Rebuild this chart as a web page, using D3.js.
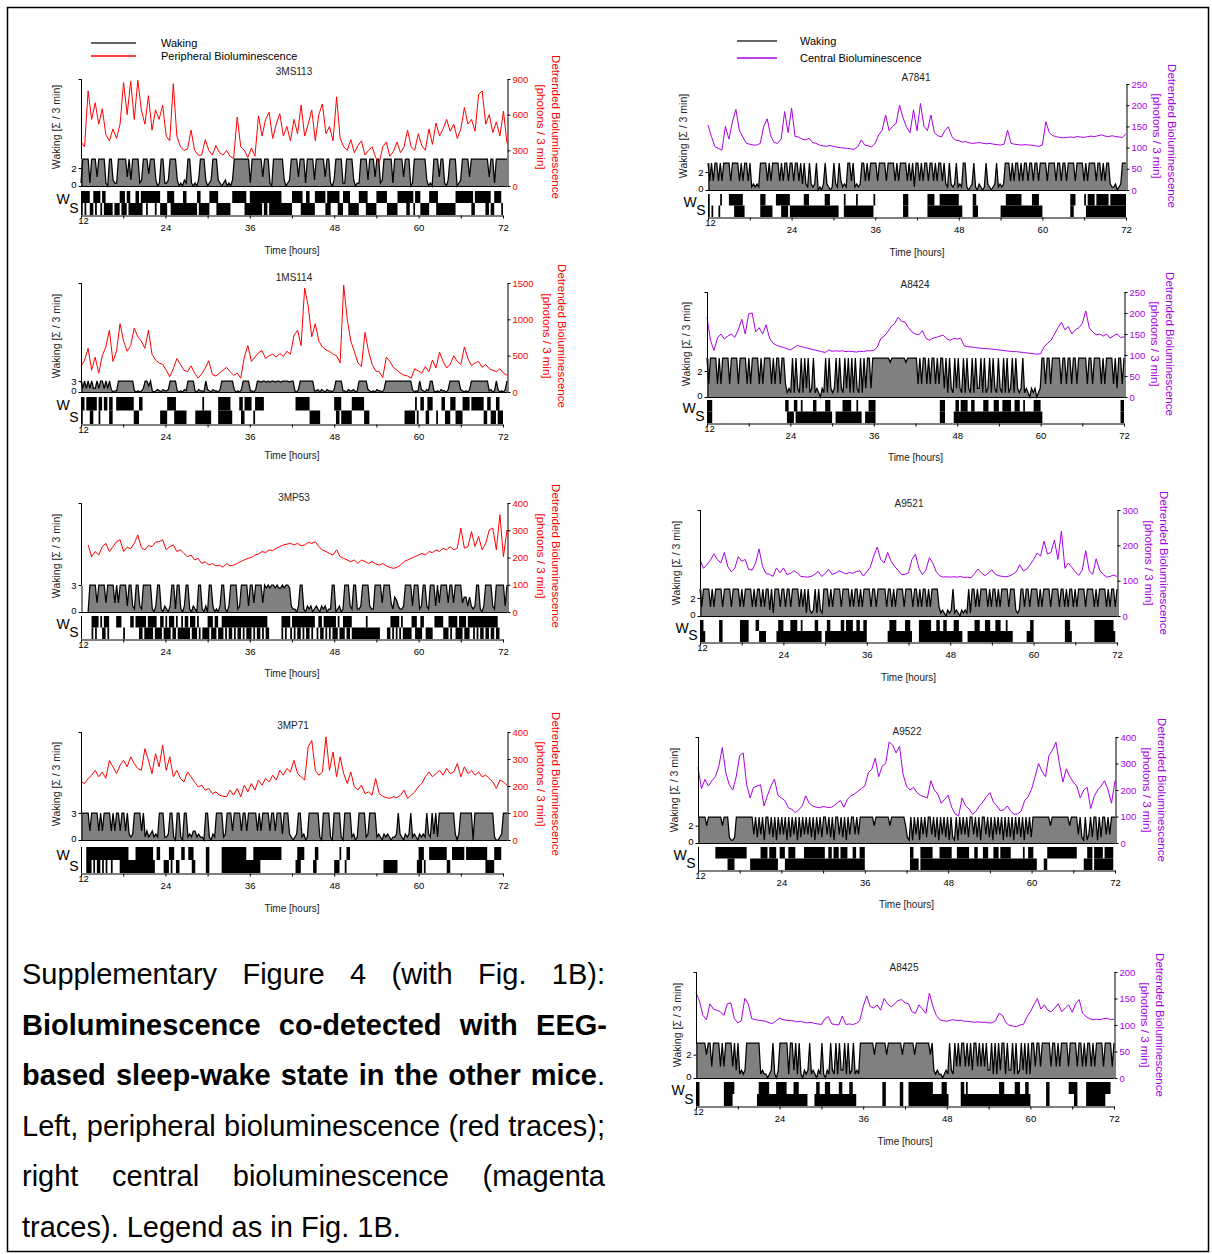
<!DOCTYPE html>
<html>
<head>
<meta charset="utf-8">
<script src="https://cdn.jsdelivr.net/npm/d3@7"></script>
<style>body{margin:0;background:#fff}</style>
</head>
<body>
<svg id="fig" width="1212" height="1254"></svg>
<script>
// time base: bioluminescence every 30 min, waking / hypnogram every 15 min, 12 h -> 72 h
var hourTicks = [12, 18, 24, 30, 36, 42, 48, 54, 60, 66, 72];
var bioStep = 0.5;

// ---- left column, peripheral bioluminescence ----
var bio3MS113 = [
 370,330,800,560,700,520,650,430,380,480,
 400,520,870,600,880,560,890,640,520,760,
 470,640,560,680,420,380,860,420,330,300,
 310,470,300,260,260,390,300,260,340,280,
 260,300,250,230,580,330,300,240,320,250,
 590,420,560,620,400,520,610,420,500,380,
 560,440,680,420,520,640,380,600,690,440,
 500,380,750,400,330,300,390,280,340,380,
 260,300,330,240,190,330,370,250,290,370,
 280,330,470,330,300,440,340,300,480,350,
 530,420,480,560,460,520,400,480,660,520,
 560,460,770,800,520,600,450,540,420,630,
 360];
var wake3MS113 = "1999 9199 9399 9910 9921 1999 9939 2999 9129 9949 " +
 "9920 1991 1299 9920 1021 9910 1029 9920 1299 9210 " +
 "1201 0299 9999 9991 9999 9939 9910 9999 9920 1299 " +
 "9939 9919 9992 9999 9399 1029 9991 1999 9201 1999 " +
 "9299 9399 1299 9991 9999 9399 9019 9999 9920 1099 " +
 "9399 1029 9990 1299 9939 9999 9999 9399 1999 9999";
var hyp3MS113 = "BWBW WSSW BWWS WBSS SS.S SSWB BSWB SSSB BSBW WBWW " +
 "WWBW WSSS SWWB BSSS SSBB SSSS SSWB SSSS SWWW WBSS " +
 "SSSS S.WW WWWW WBSS BBBB BBBW BBWB BBBB BBSS SSSS " +
 "WWWW WBSS BBSS SWWW WWWS BBWW WWBS SWWW BSSS SSWW " +
 "WWBS SSSS WWWW WWSS SSSS WWWW WBBW WSWW WSSS SSWW " +
 "WWBS SSSS SSSS SWWW WWWW WWBS WWWW WWBB WSSW WWWS";

var bio1MS114 = [
 350,440,600,300,480,260,500,620,850,420,
 560,940,700,560,640,880,760,700,600,850,
 520,440,400,380,300,210,320,460,380,300,
 280,360,260,190,250,330,430,240,220,260,
 300,340,280,230,260,190,480,640,420,480,
 540,570,460,500,520,480,530,490,560,520,
 780,850,640,1430,1180,760,940,700,620,580,
 560,520,500,400,1470,1000,700,560,400,350,
 820,560,380,290,280,200,480,420,340,300,
 260,230,220,190,320,290,260,350,280,440,
 330,550,420,330,380,500,420,380,620,460,
 360,400,420,340,380,320,300,280,320,260,
 230];
var wake1MS114 = "9393 9393 3939 9393 9201 1999 9999 9910 1013 9959 " +
 "1012 1021 1299 9910 1021 9999 1021 1092 1021 1029 " +
 "9999 9920 1029 9991 1029 9899 8989 9899 8999 9899 " +
 "1029 9999 9991 1202 1021 1029 9991 1021 1201 9999 " +
 "9210 1021 1029 9999 9999 9999 9920 1092 1021 9910 " +
 "1021 1029 9999 9210 1029 9999 9999 9120 1920 1029";
var hyp1MS114 = "BW.W WBBW W.BW .WW. BB.. WWWW WWWW WWSS SWW. .... " +
 ".... .SSS SWWW WBSS SSSS .... .SSS SBSS SS.. ..BB " +
 "BBBB BS.. ..WB SWWW W.SW WWWW .... .... .... .... " +
 "..WW WWWW WWSS SSSS .... .... WBBW SSSS SSWW WWWW " +
 "WSSS .... .... .... .... .... SSSS SSWS .WW. SBWW " +
 "..S. .WWS SSWW WSSS SWWW W.WW WWWW WSSW WSSS WBSS";

// 3MP53 bioluminescence starts at 13 h
var bio3MP53 = [
 246,203,222,209,240,252,222,240,258,265,
 222,238,232,252,283,236,228,244,240,256,
 258,265,228,240,246,222,228,215,203,209,
 191,197,178,185,172,178,169,172,164,178,
 169,172,178,185,191,197,200,209,213,222,
 218,228,225,234,240,246,249,252,246,252,
 243,246,255,252,258,240,228,222,215,209,
 228,203,197,191,185,191,178,191,185,178,
 185,176,172,178,169,164,160,164,172,185,
 191,197,203,209,215,209,222,218,228,222,
 234,228,240,228,234,308,234,240,295,240,
 277,228,252,301,308,228,357,203,301];
var wake3MP53 = "---- 0999 9399 9939 9993 9399 9929 9219 9219 9999 " +
 "1029 9102 1029 9199 1029 9102 1099 1020 9920 1029 " +
 "9102 9999 1299 9929 9399 9939 8989 9898 8989 9821 " +
 "1029 9102 1201 2102 1201 1990 1201 9992 1991 1299 " +
 "9921 1999 9399 9931 5421 1299 9929 9912 9921 9992 " +
 "9399 9939 9399 9935 5252 1299 1029 9992 1999 9929";
var hyp3MP53 = ".... ..BW BW.W SBWB .... WWW. S... WW.W WBBW BSBB " +
 "BWBS SBWS BSBW BSWS SBSB BSWB BSWS .SSS BWBS BWSS " +
 "BWBW BBWB WBBW BWBB BWBW BBWB WBS. .... ..BW BWWS " +
 "WBWB BWBW BBWB W.SW BSWB WBWB BSWS SBWB BWSS SSSS " +
 "SSBS SSSS SS.. ..SS WBWB WSWS SSSS WWBS SBW. SSSS " +
 ".WWW WWSS SWBW WBSB BWBS BWWB WBWB BWBB WBBW BS..";

var bio3MP71 = [
 215,209,228,240,258,234,252,228,295,271,
 246,277,295,271,308,283,265,258,338,295,
 246,320,271,351,258,308,234,258,228,215,
 252,234,215,197,203,185,191,172,178,166,
 162,160,185,166,191,160,203,178,209,185,
 222,203,228,215,240,222,258,240,265,252,
 295,246,234,222,345,369,258,240,252,382,
 258,326,234,308,246,209,252,197,185,203,
 172,178,166,228,172,162,157,154,160,157,
 166,185,154,166,178,197,209,234,252,234,
 246,258,240,265,246,252,283,234,271,246,
 258,240,252,234,240,228,215,191,222,215,
 203];
var wake3MP71 = "9999 9399 9939 3999 9393 9939 9392 1299 9939 1312 " +
 "3121 9991 1299 1099 1099 1213 3121 1099 1021 9999 " +
 "1299 9399 9939 9399 9993 9399 9939 9399 9299 9210 " +
 "1299 1201 9999 9910 9999 1099 9910 9999 1201 9999 " +
 "1299 9912 1021 2101 1292 1021 2912 1021 2192 1929 " +
 "1999 9999 9920 2999 9999 0999 9999 9999 1001 2999";
var hyp3MP71 = "...B BBWB WBBW BWBW WBWW WWBB BBBS SSSB BBBB BBBB " +
 "BS.W W..S SSWB W.SS .WW. .WWB S... ...B B... .... " +
 "BBBB BBBB BBBB BBSS SSBB BBWW WWWW WWWW WW.. .... " +
 "..SB BWW. .... SBW. .... .... SSSW ..SW W... .... " +
 ".... .... .... SSSS SSSS .... .... ...S BBWS ..WW " +
 "WWWW WWWW SS.W WWWW WW.W WWWW WWWW WWBS SSSW WWW.";

// ---- right column, central bioluminescence ----
var bioA7841 = [
 153,126,102,98,94,150,120,160,190,141,
 125,110,108,106,106,110,150,168,128,112,
 110,120,185,135,193,126,125,120,118,122,
 112,110,106,104,103,105,103,101,100,99,
 98,97,96,102,118,106,104,102,110,130,
 141,177,140,150,157,200,170,148,135,189,
 140,204,150,140,177,135,128,125,140,149,
 126,118,116,113,114,111,110,111,112,110,
 109,110,108,107,106,108,141,110,108,107,
 106,107,106,106,104,103,106,161,135,128,
 126,124,123,124,125,124,126,125,124,126,
 127,126,128,130,127,126,128,126,125,124,
 133];
var wakeA7841 = "9393 9939 3999 9399 9939 3993 9121 2199 9939 3999 " +
 "9393 9939 9399 3929 2192 1290 1029 2101 9219 3121 " +
 "9939 1212 9939 3999 9399 9939 9993 9399 9939 3919 " +
 "9393 9939 9393 9939 2192 1291 2199 1012 9102 1019 " +
 "2101 2912 1299 9393 9939 3993 9939 9399 9939 9993 " +
 "9939 9399 9939 9993 9399 9939 9393 9921 1201 2999";
var hypA7841 = "B.S. ..SW .... WWWB BBBB S... .... ..BB BSSS S..W " +
 "WWBB BBWS SSSS SSSB BBSS SSSS SSSB BBSS SSS. ..BS " +
 "SSSS SBSS SSSS SSSW .... .... .... .... BBB. .... " +
 ".... ..BB BBSS SBBB BBBB BBBB SS.. .... BBS. .... " +
 ".... .... SSSB BBBB BBBB SSSS SSBB BBSS .... .... " +
 ".... .... BBW. .... WSBB BBSB BBBB BBSB BBBB BBBB";

var bioA8424 = [
 190,135,111,140,150,138,145,150,142,160,
 185,150,198,200,155,165,150,172,140,128,
 123,120,118,115,112,117,123,120,118,116,
 114,112,110,108,106,112,109,110,109,110,
 108,109,108,107,109,108,110,110,111,119,
 139,145,155,168,175,190,180,178,165,155,
 150,148,158,140,135,140,142,145,147,138,
 135,140,138,140,122,120,119,118,117,116,
 115,115,114,113,112,111,110,109,108,108,
 107,106,105,104,103,102,103,119,128,135,
 150,165,178,160,168,150,160,165,175,205,
 165,155,148,150,145,150,140,146,150,142,
 143];
var wakeA8424 = "9399 9939 3999 9399 9939 9993 9399 9939 3999 9393 " +
 "9939 9312 1919 2191 9291 2912 1021 9192 1291 9219 " +
 "2919 1921 9192 9929 9999 9999 9899 9999 9989 9999 " +
 "9393 9939 3993 9399 2919 2192 9219 1921 9192 2919 " +
 "1291 9219 2191 9129 1921 2912 1021 2012 9939 9399 " +
 "9993 9939 9399 3999 9939 9399 9939 3999 9392 9939";
var hypA8424 = "BBB. .... .... .... .... .... .... .... .... .... " +
 ".... .WBS SSWB SSBS SSSS SBBS SSSS BBBS ..SS SSBB " +
 "BBBS SSBS S..S SBBB B... .... .... .... .... .... " +
 ".... .... .... ..BB B... ..SB BSBB BBSS BBSS SSSB " +
 "BBSS SBBB SSBB BBBS SBBB SSBS SSSS BBBB S... .... " +
 ".... .... .... .... .... .... .... .... .... ..BB";

var bioA9521 = [
 159,135,145,158,176,160,150,180,140,125,
 135,168,155,160,132,130,150,190,140,120,
 118,112,136,122,136,118,120,128,122,112,
 111,110,112,118,126,112,120,132,118,121,
 128,124,119,123,121,126,128,113,125,138,
 170,195,160,150,180,155,140,130,117,118,
 122,160,175,135,117,130,165,150,125,114,
 110,111,110,111,110,112,109,110,108,120,
 133,122,114,122,131,118,114,112,111,113,
 118,125,145,128,132,145,160,178,170,212,
 175,180,215,160,240,135,150,138,125,115,
 130,185,128,118,162,130,118,110,112,116,
 112];
var wakeA9521 = "9399 9939 3999 9399 9939 9993 9399 9939 3993 9399 " +
 "2919 9939 9399 3999 9393 9192 1291 9219 9939 3999 " +
 "9399 9939 3993 9399 9939 9399 9993 9939 3999 9399 " +
 "9939 9393 9939 3999 9312 1021 2912 1021 2191 9939 " +
 "3999 9393 9939 3999 9399 9212 9939 9399 9939 3999 " +
 "9399 9939 9393 9939 3999 9399 9939 3999 9393 9939";
var hypA9521 = "BBS. .... ...B B... .... ...B BBBB .... WWSS SS.. " +
 ".... SBBB SSSS BBBB SSBS SSSS SSBB SS.. SBBS SSSS " +
 "SBBS BBBB SSBB SSBB .... .... .... SBBB BSSS SSBB " +
 "BS.. ..BB BBBB BSSS BBSS BBSS SSBB BSS. ..SS SSBB " +
 "BSSS BBBS SSBB BSSS BSSS .... .... SSBB .... .... " +
 ".... .... ..BB BS.. .... .... ...B BBBB BBBB BBS.";

var bioA9522 = [
 286,205,240,215,235,250,290,360,265,220,
 200,250,330,340,220,170,210,215,220,140,
 180,215,241,180,170,160,133,127,115,125,
 140,178,150,140,135,133,138,135,133,140,
 150,160,135,165,178,185,195,205,215,265,
 278,320,250,290,300,381,370,340,365,260,
 215,200,210,190,180,175,170,235,200,185,
 150,165,180,135,110,102,170,140,128,108,
 120,140,155,175,190,155,140,122,125,140,
 120,108,110,120,160,175,203,250,300,270,
 250,330,350,381,300,230,280,250,230,215,
 170,200,210,130,175,200,215,235,200,150,
 235];
var wakeA9522 = "9999 9699 9999 9969 9921 1299 9999 9999 3929 3919 " +
 "9392 9193 9391 9293 9192 9393 9291 9392 9939 2919 " +
 "9392 9193 9939 3999 9999 9699 9999 9969 9999 9996 " +
 "2191 9391 9392 9939 2919 3929 1921 9193 9392 9939 " +
 "2919 9392 9193 9391 9292 9193 9291 9392 9999 9999 " +
 "9969 9999 9999 9699 9939 2191 3929 9192 9939 3999";
var hypA9522 = ".... .... ..WW WWWW WBBB BWWW WWWW ..SS SSSS BBBB " +
 "SBBB BS.W WWSS BBBB SSSS SBBB BBBB BBBB BSSB BSBB " +
 "BSBB BBSS SBBS SBBB .... .... .... .... .... .... " +
 "..BB SSS. BBBB BBBS SSSB BBBB BBSS SBBB BBBB SSSB " +
 "BSSS BBBS SSBB BSBB BBBB SSSS SSSB SSBB BSS. ...S " +
 "SWWW WWWW WWWW WWWW WW.. ..SS BBB. BBBB BSBB BBB.";

var bioA8425 = [
 161,145,118,110,140,130,128,125,118,140,
 142,112,104,108,150,140,112,110,109,108,
 107,104,103,108,113,110,109,108,108,106,
 107,105,104,105,103,102,101,112,116,102,
 101,100,117,101,102,101,103,108,135,155,
 135,132,138,128,150,140,134,140,146,148,
 142,140,125,122,138,130,122,160,135,118,
 110,108,107,109,110,108,109,107,107,106,
 105,106,105,105,104,104,108,122,118,104,
 99,98,97,100,101,115,125,138,150,130,
 138,128,125,132,140,125,132,138,124,140,
 148,122,116,112,110,111,110,112,113,110,
 111];
var wakeA8425 = "9999 9969 9399 9939 3999 9392 9121 2999 9999 9121 " +
 "1012 9102 9999 9199 2919 1021 2912 1021 9102 1921 " +
 "9192 2919 1291 2199 9999 9969 9999 9699 9999 9969 " +
 "9999 9699 9999 9969 2121 1012 1921 9393 9939 3929 " +
 "9393 9392 2919 1929 9192 2919 1292 9191 9939 9399 " +
 "9993 9939 3999 9399 9939 9393 9939 3999 9399 9939";
var hypA8425 = "BB.. .... .... .... BBBB BW.. .... .... ...S BBBB " +
 "BBSS SSBB BBBB SSSS BBBS SSSS .... SBBS SSBB BSSS " +
 "SSBB SSSS BBSS .... .... .... ...B B... .... .BB. " +
 "..BB BBBB BBBB BBBB SSSS SBBB S... .... BBSB SSSS " +
 "SSSS SSSS SSSS SSBB BSSS SSSB BBSS SBBS .... .... " +
 ".BB. .... .... ..WW WBB. .... BBBB BBBB BBBW WW..";

var FONT = "'Liberation Sans', Arial, Helvetica, sans-serif";
var RED = "#ff0000", VIOLET = "#a800e4";

var panels = [
 {name:"3MS113", bio:bio3MS113, bioStart:12, wake:wake3MS113, hyp:hyp3MS113, color:RED,
  x0:81, x1:503, xr:507, top:79, y0:186, bioMax:900, bioTicks:[0,300,600,900], wake3:159, wakeTicks:[0,2], ext:true,
  hypTop:191, hypBot:215, titleX:294, titleY:71, xlabY:250, ylabX:56, ylabY:127, rlabX:556},
 {name:"1MS114", bio:bio1MS114, bioStart:12, wake:wake1MS114, hyp:hyp1MS114, color:RED,
  x0:81, x1:503, xr:507, top:283, y0:392, bioMax:1500, bioTicks:[0,500,1000,1500], wake3:381, wakeTicks:[0,3], ext:true,
  hypTop:397, hypBot:424, titleX:294, titleY:277, xlabY:455, ylabX:56, ylabY:336, rlabX:562},
 {name:"3MP53", bio:bio3MP53, bioStart:13, wake:wake3MP53, hyp:hyp3MP53, color:RED,
  x0:81, x1:503, xr:507, top:503, y0:612, bioMax:400, bioTicks:[0,100,200,300,400], wake3:585, wakeTicks:[0,3], ext:true,
  hypTop:616, hypBot:639, titleX:294, titleY:497, xlabY:673, ylabX:56, ylabY:556, rlabX:556},
 {name:"3MP71", bio:bio3MP71, bioStart:12, wake:wake3MP71, hyp:hyp3MP71, color:RED,
  x0:81, x1:503, xr:507, top:732, y0:840, bioMax:400, bioTicks:[0,100,200,300,400], wake3:813, wakeTicks:[0,3], ext:true,
  hypTop:847, hypBot:873, titleX:293, titleY:725, xlabY:908, ylabX:56, ylabY:784, rlabX:556},
 {name:"A7841", bio:bioA7841, bioStart:12, wake:wakeA7841, hyp:hypA7841, color:VIOLET,
  x0:708, x1:1126, xr:1126, top:84, y0:190, bioMax:250, bioTicks:[0,50,100,150,200,250], wake3:163, wakeTicks:[0,2], ext:false,
  hypTop:194, hypBot:217, titleX:916, titleY:77, xlabY:252, ylabX:683, ylabY:136, rlabX:1172},
 {name:"A8424", bio:bioA8424, bioStart:12, wake:wakeA8424, hyp:hypA8424, color:VIOLET,
  x0:707, x1:1124, xr:1124, top:292, y0:397, bioMax:250, bioTicks:[0,50,100,150,200,250], wake3:358, wakeTicks:[0,2], ext:true,
  hypTop:400, hypBot:423, titleX:915, titleY:284, xlabY:457, ylabX:686, ylabY:344, rlabX:1170},
 {name:"A9521", bio:bioA9521, bioStart:12, wake:wakeA9521, hyp:hypA9521, color:VIOLET,
  x0:700, x1:1117, xr:1117, top:510, y0:616, bioMax:300, bioTicks:[0,100,200,300], wake3:589, wakeTicks:[0,2], ext:true,
  hypTop:620, hypBot:642, titleX:909, titleY:503, xlabY:677, ylabX:676, ylabY:563, rlabX:1164},
 {name:"A9522", bio:bioA9522, bioStart:12, wake:wakeA9522, hyp:hypA9522, color:VIOLET,
  x0:698, x1:1115, xr:1115, top:737, y0:843, bioMax:400, bioTicks:[0,100,200,300,400], wake3:817, wakeTicks:[0,2], ext:true,
  hypTop:847, hypBot:870, titleX:907, titleY:731, xlabY:904, ylabX:674, ylabY:790, rlabX:1162},
 {name:"A8425", bio:bioA8425, bioStart:12, wake:wakeA8425, hyp:hypA8425, color:VIOLET,
  x0:696, x1:1114, xr:1114, top:972, y0:1078, bioMax:200, bioTicks:[0,50,100,150,200], wake3:1043, wakeTicks:[0,2], ext:true,
  hypTop:1082, hypBot:1106, titleX:904, titleY:967, xlabY:1141, ylabX:677, ylabY:1025, rlabX:1160}
];

var svg = d3.select("#fig").attr("font-family", FONT);

svg.append("rect").attr("x", 7.5).attr("y", 7.5).attr("width", 1201).attr("height", 1244)
  .attr("fill", "none").attr("stroke", "#000").attr("stroke-width", 1.5);

function parseWake(s){
  return s.replace(/ /g, "").split("").map(function(c){ return c === "-" ? null : +c / 3; });
}

function cleanAxis(sel){
  sel.attr("font-family", null).attr("font-size", null);
  sel.selectAll("line").attr("stroke", "#000");
  sel.select(".domain").attr("stroke", "#000");
}

var plain = function(d){ return String(d); };

function drawPanel(p){
  var g = svg.append("g");
  var x = d3.scaleLinear().domain([12, 72]).range([p.x0, p.xr]);
  var xh = d3.scaleLinear().domain([12, 72]).range([p.x0, p.x1]);
  var yB = d3.scaleLinear().domain([0, p.bioMax]).range([p.y0, p.top]);
  var yW = d3.scaleLinear().domain([0, 3]).range([p.y0, p.wake3]);

  // waking trace, grey area under a black line
  var w = parseWake(p.wake);
  var wd = w.map(function(v, i){ return {t: 12 + i * 60 / (w.length - 1), v: v}; });
  var ok = function(d){ return d.v !== null; };
  g.append("path").datum(wd).attr("fill", "#808080")
    .attr("d", d3.area().defined(ok).x(function(d){ return x(d.t); }).y0(p.y0).y1(function(d){ return yW(d.v); }));
  g.append("path").datum(wd).attr("fill", "none").attr("stroke", "#000").attr("stroke-width", 1.25)
    .attr("d", d3.line().defined(ok).x(function(d){ return x(d.t); }).y(function(d){ return yW(d.v); }));

  // bioluminescence
  var bd = p.bio.map(function(v, i){ return {t: p.bioStart + i * bioStep, v: v}; });
  g.append("path").datum(bd).attr("fill", "none").attr("stroke", p.color).attr("stroke-width", 1)
    .attr("d", d3.line().x(function(d){ return x(d.t); }).y(function(d){ return yB(d.v); }));

  // baseline
  g.append("line").attr("x1", p.x0).attr("x2", p.xr).attr("y1", p.y0 + 0.5).attr("y2", p.y0 + 0.5)
    .attr("stroke", "#000").attr("stroke-width", 1);

  // right axis
  var axR = g.append("g").attr("transform", "translate(" + (p.xr + 0.5) + ",0)")
    .call(d3.axisRight(yB).tickValues(p.bioTicks).tickFormat(plain).tickSize(3).tickPadding(2).tickSizeOuter(0));
  cleanAxis(axR);
  axR.selectAll("text").attr("fill", p.color).style("font-size", "9.5px");

  // left axis
  var axL = g.append("g").attr("transform", "translate(" + (p.x0 + 0.5) + ",0)")
    .call(d3.axisLeft(yW).tickValues(p.wakeTicks).tickFormat(plain).tickSize(3).tickPadding(2).tickSizeOuter(0));
  cleanAxis(axL);
  axL.selectAll("text").attr("fill", "#000").style("font-size", "9.5px");
  axL.selectAll(".tick").filter(function(d){ return d === 0; }).select("text").attr("dy", "0.2em");
  if (p.ext){
    g.append("line").attr("x1", p.x0 + 0.5).attr("x2", p.x0 + 0.5).attr("y1", yB(p.bioMax)).attr("y2", p.wake3)
      .attr("stroke", "#000");
    g.append("line").attr("x1", p.x0 - 2.5).attr("x2", p.x0 + 0.5).attr("y1", yB(p.bioMax) + 0.5).attr("y2", yB(p.bioMax) + 0.5)
      .attr("stroke", "#000");
  }

  // hypnogram: W row on top, S row below
  var cells = p.hyp.replace(/ /g, "").split("");
  var hstep = 60 / cells.length;
  var mid = (p.hypTop + p.hypBot) / 2;
  var runs = [];
  [["W", p.hypTop, mid], ["S", mid, p.hypBot]].forEach(function(row){
    var start = -1;
    for (var i = 0; i <= cells.length; i++){
      var on = i < cells.length && (cells[i] === row[0] || cells[i] === "B");
      if (on && start < 0) start = i;
      if (!on && start >= 0){ runs.push({a: 12 + start * hstep, b: 12 + i * hstep, y0: row[1], y1: row[2]}); start = -1; }
    }
  });
  g.append("g").selectAll("rect").data(runs).join("rect")
    .attr("x", function(d){ return xh(d.a); })
    .attr("width", function(d){ return Math.max(0.8, xh(d.b) - xh(d.a)); })
    .attr("y", function(d){ return d.y0; })
    .attr("height", function(d){ return d.y1 - d.y0; })
    .attr("fill", "#000");

  g.append("line").attr("x1", p.x0 + 0.5).attr("x2", p.x0 + 0.5).attr("y1", p.hypTop).attr("y2", p.hypBot)
    .attr("stroke", "#000");
  var axB = g.append("g").attr("transform", "translate(0," + (p.hypBot + 0.5) + ")")
    .call(d3.axisBottom(xh).tickValues(hourTicks).tickSize(3).tickPadding(6).tickSizeOuter(0)
      .tickFormat(function(d){ return d % 12 === 0 ? String(d) : ""; }));
  cleanAxis(axB);
  axB.selectAll("text").attr("fill", "#000").style("font-size", "9.5px");
  axB.selectAll(".tick").filter(function(d){ return d === 12; }).select("text")
    .attr("transform", "translate(2,-7)");

  g.append("text").attr("x", p.x0 - 18).attr("y", p.hypTop + 7.5).attr("text-anchor", "middle")
    .attr("dominant-baseline", "central").style("font-size", "14px").text("W");
  g.append("text").attr("x", p.x0 - 7).attr("y", p.hypBot - 7).attr("text-anchor", "middle")
    .attr("dominant-baseline", "central").style("font-size", "14px").text("S");

  // titles and axis labels
  g.append("text").attr("x", p.titleX).attr("y", p.titleY).attr("text-anchor", "middle")
    .attr("dominant-baseline", "central").style("font-size", "10px").attr("fill", "#222").text(p.name);
  g.append("text").attr("x", (p.x0 + p.x1) / 2).attr("y", p.xlabY).attr("text-anchor", "middle")
    .attr("dominant-baseline", "central").style("font-size", "10px").attr("fill", "#222").text("Time [hours]");
  g.append("text").attr("transform", "translate(" + p.ylabX + "," + p.ylabY + ") rotate(-90)")
    .attr("text-anchor", "middle").attr("dominant-baseline", "central").style("font-size", "10.5px")
    .attr("fill", "#222").text("Waking [\u03A3 / 3 min]");
  g.append("text").attr("transform", "translate(" + p.rlabX + "," + p.ylabY + ") rotate(90)")
    .attr("text-anchor", "middle").attr("dominant-baseline", "central").style("font-size", "11.5px")
    .attr("fill", p.color).text("Detrended Bioluminescence");
  g.append("text").attr("transform", "translate(" + (p.rlabX - 15) + "," + p.ylabY + ") rotate(90)")
    .attr("text-anchor", "middle").attr("dominant-baseline", "central").style("font-size", "11.5px")
    .attr("fill", p.color).text("[photons / 3 min]");
}

panels.forEach(drawPanel);

// legends
function legend(x1, x2, tx, y1, y2, label2, color){
  var g = svg.append("g").style("font-size", "11px");
  g.append("line").attr("x1", x1).attr("x2", x2).attr("y1", y1).attr("y2", y1).attr("stroke", "#333").attr("stroke-width", 1.3);
  g.append("line").attr("x1", x1).attr("x2", x2).attr("y1", y2).attr("y2", y2).attr("stroke", color).attr("stroke-width", 1.6);
  g.append("text").attr("x", tx).attr("y", y1).attr("dominant-baseline", "central").text("Waking");
  g.append("text").attr("x", tx).attr("y", y2).attr("dominant-baseline", "central").text(label2);
}
legend(91, 136, 161, 43, 56, "Peripheral Bioluminescence", RED);
legend(737, 777, 800, 41, 58, "Central Bioluminescence", VIOLET);

// caption, justified word by word
var capLines = [
  [["Supplementary Figure 4 (with Fig. 1B):", false]],
  [["Bioluminescence co-detected with EEG-", true]],
  [["based sleep-wake state in the other mice", true], [".", false]],
  [["Left, peripheral bioluminescence (red traces);", false]],
  [["right central bioluminescence (magenta", false]],
  [["traces). Legend as in Fig. 1B.", false]]
];
var capLeft = 22, capRight = [605, 607, 605, 605, 605, null], capY0 = 984, capDy = 50.6;
var cap = svg.append("g").style("font-size", "29px").attr("fill", "#000");

capLines.forEach(function(segs, li){
  var words = [[]];
  segs.forEach(function(s){
    s[0].split(" ").forEach(function(part, k){
      if (k > 0) words.push([]);
      if (part) words[words.length - 1].push([part, s[1]]);
    });
  });
  words = words.filter(function(wd){ return wd.length; });
  var y = capY0 + li * capDy;
  var nodes = words.map(function(wd){
    var t = cap.append("text").attr("y", y);
    wd.forEach(function(s){ t.append("tspan").style("font-weight", s[1] ? "bold" : "normal").text(s[0]); });
    return t;
  });
  var widths = nodes.map(function(t){ return t.node().getComputedTextLength(); });
  var total = d3.sum(widths);
  var gap = capRight[li] ? (capRight[li] - capLeft - total) / (nodes.length - 1) : 29 * 0.278;
  var xx = capLeft;
  nodes.forEach(function(t, i){ t.attr("x", xx); xx += widths[i] + gap; });
});
</script>
</body>
</html>
